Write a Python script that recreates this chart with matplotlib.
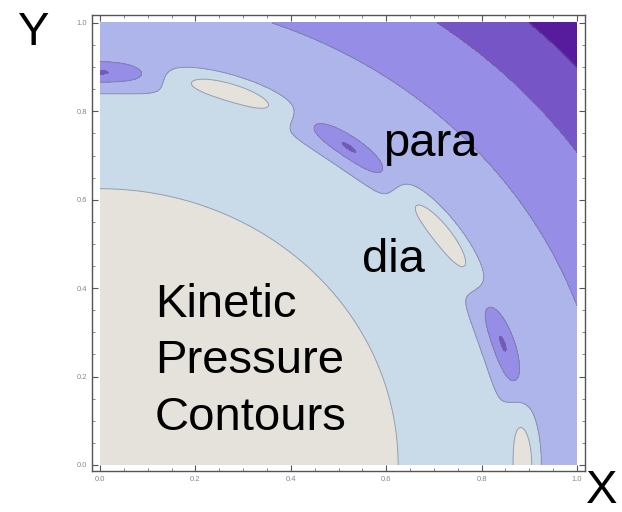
import numpy as np
import matplotlib
matplotlib.use("Agg")
import matplotlib.pyplot as plt

plt.rcParams['font.family'] = ['Liberation Sans', 'DejaVu Sans']

# ---- data ----
levels = [0.625, 0.86, 1.063, 1.225, 1.345]          # contour levels (radius-like units)
band_colors = ['#E4E2DA', '#C9DAE8', '#AEB5EB', '#968DE6', '#7656C6', '#571C9E']
ripple_n = 10            # number of ripples per full turn
ripple_r0 = 0.887        # radius of the ripple ring
ripple_w = 0.028         # radial width of the ripple ring
ripple_amp = 0.385       # ripple amplitude
ripple_offset = -0.04    # ripple mean offset
tick_values = [0.0, 0.2, 0.4, 0.6, 0.8, 1.0]
tick_labels = ['0.0', '0.2', '0.4', '0.6', '0.8', '1.0']

# ---- field ----
gx = np.linspace(0, 1, 700)
gy = np.linspace(0, 1, 700)
X, Y = np.meshgrid(gx, gy)
R = np.hypot(X, Y)
TH = np.arctan2(Y, X)
ring = np.exp(-((R - ripple_r0) / ripple_w) ** 2)
F = R + (ripple_offset - ripple_amp * np.cos(ripple_n * TH)) * ring

fig = plt.figure(figsize=(6.22, 5.12), dpi=100)
ax = fig.add_axes([92 / 622, 1 - 471 / 512, (585 - 92) / 622, (471 - 15) / 512])

bounds = [-10] + levels + [10]
ax.contourf(X, Y, F, levels=bounds, colors=band_colors)
ax.contour(X, Y, F, levels=levels, colors='#6f6f7f', linewidths=0.7, alpha=0.55)

ax.set_xlim(-0.0168, 1.0168)
ax.set_ylim(-0.0136, 1.018)
ax.set_xticks(tick_values)
ax.set_yticks(tick_values)
ax.set_xticklabels(tick_labels)
ax.set_yticklabels(tick_labels)
ax.set_xticks(np.arange(0, 1.0001, 0.05), minor=True)
ax.set_yticks(np.arange(0, 1.0001, 0.05), minor=True)
ax.tick_params(which='both', direction='in', top=True, right=True, colors='#555555',
               labelsize=5.5, labelcolor='#888888')
ax.tick_params(which='major', length=4, width=0.8)
ax.tick_params(which='minor', length=2, width=0.5)
for s in ax.spines.values():
    s.set_color('#555555')
    s.set_linewidth(1.0)

def ftext(px, py, s):
    fig.text(px / 622, 1 - py / 512, s, fontsize=34, va='baseline', ha='left', color='black')

ftext(18, 45, 'Y')
ftext(586, 503, 'X')
ftext(383, 156, 'para')
ftext(362, 272, 'dia')
ftext(155, 317, 'Kinetic')
ftext(155, 373, 'Pressure')
ftext(155, 430, 'Contours')

fig.savefig('out.png', dpi=100)
